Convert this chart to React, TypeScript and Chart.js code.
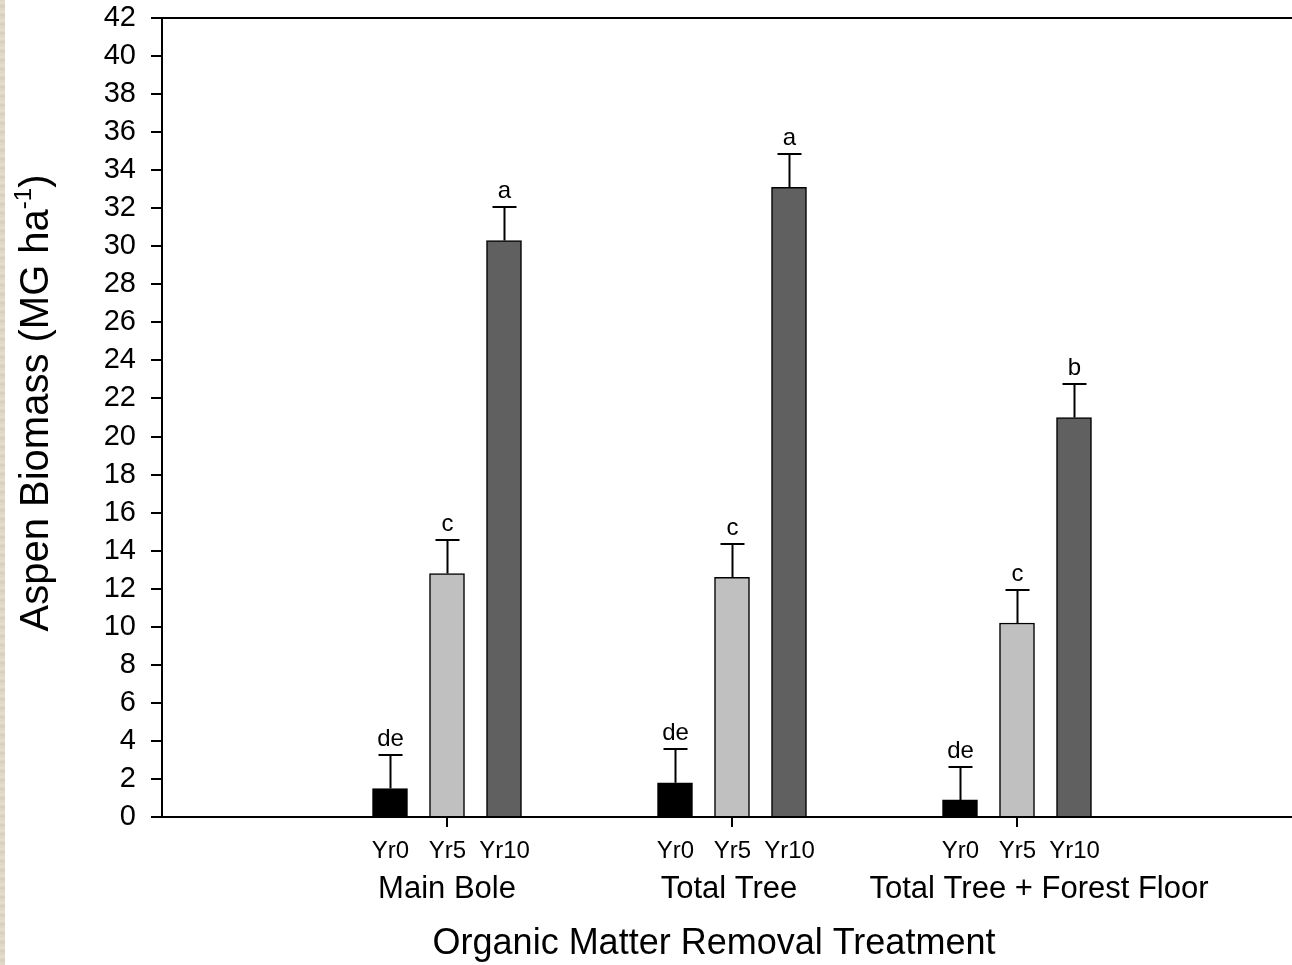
import React, { useEffect, useRef } from "react";
import { Chart, registerables } from "chart.js";

Chart.register(...registerables);

// Treatments along the x axis
const treatments = ["Main Bole", "Total Tree", "Total Tree + Forest Floor"];
// Sampling years (one bar per year inside each treatment)
const years = ["Yr0", "Yr5", "Yr10"];

// Mean aspen biomass (Mg/ha)
const yr0Values = [1.5, 1.8, 0.9];
const yr5Values = [12.8, 12.6, 10.2];
const yr10Values = [30.3, 33.1, 21.0];

// Standard errors
const yr0Errors = [1.75, 1.75, 1.75];
const yr5Errors = [1.75, 1.75, 1.75];
const yr10Errors = [1.75, 1.75, 1.75];

// Significance letters
const yr0Letters = ["de", "de", "de"];
const yr5Letters = ["c", "c", "c"];
const yr10Letters = ["a", "a", "b"];

// Y axis range
const yMin = 0;
const yMax = 42;
const yStep = 2;

const FONT = "'Liberation Sans', Arial, sans-serif";

const series = [
  { label: years[0], values: yr0Values, errors: yr0Errors, letters: yr0Letters, color: "#000000", offset: -0.2 },
  { label: years[1], values: yr5Values, errors: yr5Errors, letters: yr5Letters, color: "#c0c0c0", offset: 0 },
  { label: years[2], values: yr10Values, errors: yr10Errors, letters: yr10Letters, color: "#606060", offset: 0.2 },
];

// horizontal nudges for the treatment names
const treatmentLabelShift = [0, -3, 22];

const annotations = {
  id: "annotations",
  afterDatasetsDraw(chart: any) {
    const { ctx, chartArea, scales } = chart;
    const x = scales.x;
    const y = scales.y;
    ctx.save();
    ctx.strokeStyle = "#000";
    ctx.fillStyle = "#000";
    ctx.lineWidth = 2;

    // top frame line
    ctx.beginPath();
    ctx.moveTo(chartArea.left - 1, chartArea.top);
    ctx.lineTo(chartArea.right, chartArea.top);
    ctx.stroke();

    series.forEach((s) => {
      s.values.forEach((v, i) => {
        const cx = Math.round(x.getPixelForValue(i + 1 + s.offset)) + 0.5;
        const yTop = y.getPixelForValue(v);
        const yErr = Math.round(y.getPixelForValue(v + s.errors[i]));
        ctx.lineWidth = 2;
        ctx.beginPath();
        ctx.moveTo(cx, yTop);
        ctx.lineTo(cx, yErr);
        ctx.moveTo(cx - 12, yErr);
        ctx.lineTo(cx + 12, yErr);
        ctx.stroke();

        ctx.font = `24px ${FONT}`;
        ctx.textAlign = "center";
        ctx.textBaseline = "alphabetic";
        ctx.fillText(s.letters[i], cx, yErr - 9);

        ctx.textBaseline = "middle";
        ctx.fillText(s.label, cx, chartArea.bottom + 34);
      });
    });

    ctx.font = `31px ${FONT}`;
    ctx.textAlign = "center";
    ctx.textBaseline = "middle";
    treatments.forEach((t, i) => {
      ctx.fillText(t, x.getPixelForValue(i + 1) + treatmentLabelShift[i], chartArea.bottom + 72);
    });

    // x axis title
    ctx.font = `36px ${FONT}`;
    ctx.fillText("Organic Matter Removal Treatment", x.getPixelForValue(2) - 18, chartArea.bottom + 127);

    // y axis title with superscript
    ctx.translate(37, 403);
    ctx.rotate(-Math.PI / 2);
    const main = "Aspen Biomass (MG ha";
    const sup = "-1";
    const close = ")";
    ctx.font = `40px ${FONT}`;
    const wMain = ctx.measureText(main).width;
    const wClose = ctx.measureText(close).width;
    ctx.font = `24px ${FONT}`;
    const wSup = ctx.measureText(sup).width;
    const total = wMain + wSup + wClose;
    let px = -total / 2;
    ctx.textAlign = "left";
    ctx.textBaseline = "middle";
    ctx.font = `40px ${FONT}`;
    ctx.fillText(main, px, 0);
    px += wMain;
    ctx.font = `24px ${FONT}`;
    ctx.fillText(sup, px, -13);
    px += wSup;
    ctx.font = `40px ${FONT}`;
    ctx.fillText(close, px, 0);

    ctx.restore();
  },
};

export default function App() {
  const canvasRef = useRef<HTMLCanvasElement | null>(null);

  useEffect(() => {
    document.body.style.margin = "0";
    const canvas = canvasRef.current;
    if (!canvas) return;

    const datasets = series.map((s) => ({
      label: s.label,
      data: s.values.map((v, i) => ({ x: i + 1 + s.offset, y: v })),
      backgroundColor: s.color,
      borderColor: "#000",
      borderWidth: 1.5,
      barThickness: 35,
      grouped: false,
    }));

    const chart = new Chart(canvas, {
      type: "bar",
      data: { datasets },
      options: {
        responsive: false,
        animation: false,
        devicePixelRatio: 1,
        layout: { padding: { top: 18, right: 0, left: 0, bottom: 0 } },
        plugins: {
          legend: { display: false },
          tooltip: { enabled: false },
        },
        scales: {
          x: {
            type: "linear",
            min: 0,
            max: 4,
            offset: false,
            afterBuildTicks: (scale: any) => {
              scale.ticks = treatments.map((_, i) => ({ value: i + 1 }));
            },
            afterFit: (scale: any) => {
              scale.height = 148;
              scale.paddingLeft = 0;
              scale.paddingRight = 0;
            },
            ticks: { display: false },
            grid: {
              offset: false,
              drawOnChartArea: false,
              drawTicks: true,
              tickLength: 10,
              color: "#000",
              lineWidth: 2,
            },
            border: { display: true, color: "#000", width: 2 },
          },
          y: {
            type: "linear",
            min: yMin,
            max: yMax,
            afterFit: (scale: any) => {
              scale.width = 162;
              scale.paddingTop = 0;
              scale.paddingBottom = 0;
            },
            ticks: {
              stepSize: yStep,
              autoSkip: false,
              color: "#000",
              padding: 15,
              font: { family: FONT, size: 29 },
            },
            grid: {
              drawOnChartArea: false,
              drawTicks: true,
              tickLength: 11,
              color: "#000",
              lineWidth: 2,
            },
            border: { display: true, color: "#000", width: 2 },
          },
        },
      },
      plugins: [annotations],
    });

    return () => chart.destroy();
  }, []);

  return (
    <div
      style={{
        position: "relative",
        width: 1292,
        height: 965,
        overflow: "hidden",
        background: "#ffffff",
      }}
    >
      <canvas ref={canvasRef} width={1302} height={965} style={{ display: "block" }} />
      <div
        style={{
          position: "absolute",
          left: 0,
          top: 0,
          width: 5,
          height: 965,
          background:
            "repeating-linear-gradient(180deg, #ddd5c4 0px, #e6dfd0 3px, #d6cdbb 6px, #e2dacb 9px)",
        }}
      />
    </div>
  );
}
